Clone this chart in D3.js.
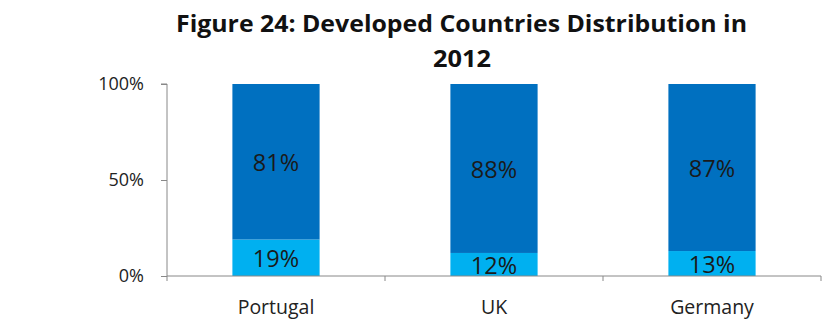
<!DOCTYPE html>
<html><head><meta charset="utf-8">
<script src="https://cdn.jsdelivr.net/npm/d3@7"></script>
<style>body{margin:0;background:#fff;} text{font-family:"Open Sans","Noto Sans",sans-serif;}</style>
</head><body>
<svg id="c" width="831" height="328"></svg>
<script>
const categories = ["Portugal", "UK", "Germany"];
const lowerValues = [19, 12, 13];
const upperValues = [81, 88, 87];
const yTicks = [0, 50, 100];
const titleLines = ["Figure 24: Developed Countries Distribution in", "2012"];

const svg = d3.select("#c");
const x = d3.scaleBand().domain(categories).range([167, 821]).paddingInner(0.6).paddingOuter(0.3);
const y = d3.scaleLinear().domain([0, 100]).range([276, 84]);

// title
svg.append("text").attr("x", 461.5).attr("y", 32).attr("text-anchor", "middle")
  .attr("font-size", 23.5).attr("font-weight", "bold").attr("fill", "#111")
  .attr("textLength", 571).attr("lengthAdjust", "spacingAndGlyphs").text(titleLines[0]);
svg.append("text").attr("x", 462).attr("y", 67).attr("text-anchor", "middle")
  .attr("font-size", 23.5).attr("font-weight", "bold").attr("fill", "#111")
  .attr("textLength", 58).attr("lengthAdjust", "spacingAndGlyphs").text(titleLines[1]);

// bars
const data = categories.map((c, i) => ({c, lo: lowerValues[i], hi: upperValues[i]}));
svg.selectAll("rect.lo").data(data).join("rect").attr("class", "lo")
  .attr("x", d => x(d.c)).attr("width", x.bandwidth())
  .attr("y", d => y(d.lo)).attr("height", d => y(0) - y(d.lo)).attr("fill", "#00B0F0");
svg.selectAll("rect.hi").data(data).join("rect").attr("class", "hi")
  .attr("x", d => x(d.c)).attr("width", x.bandwidth())
  .attr("y", d => y(d.lo + d.hi)).attr("height", d => y(d.lo) - y(d.lo + d.hi)).attr("fill", "#0070C0");

// value labels
svg.selectAll("text.vlo").data(data).join("text").attr("class", "vlo")
  .attr("x", d => x(d.c) + x.bandwidth() / 2).attr("y", d => (y(0) + y(d.lo)) / 2 + 1)
  .attr("dy", "0.36em").attr("text-anchor", "middle").attr("font-size", 23.5).attr("fill", "#1a1a1a")
  .text(d => d.lo + "%");
svg.selectAll("text.vhi").data(data).join("text").attr("class", "vhi")
  .attr("x", d => x(d.c) + x.bandwidth() / 2).attr("y", d => (y(d.lo) + y(d.lo + d.hi)) / 2 + 1)
  .attr("dy", "0.36em").attr("text-anchor", "middle").attr("font-size", 23.5).attr("fill", "#1a1a1a")
  .text(d => d.hi + "%");

// y axis
const yAxis = svg.append("g").attr("transform", "translate(167,0)")
  .call(d3.axisLeft(y).tickValues(yTicks).tickFormat(d => d + "%").tickSize(6).tickPadding(17));
yAxis.select(".domain").attr("stroke", "#888").attr("d", `M-6,${y(100)}H0V${y(0)}`);
yAxis.selectAll(".tick line").attr("stroke", "#888");
yAxis.selectAll(".tick text").attr("font-size", 18).attr("fill", "#222")
  .attr("font-family", "'Open Sans','Noto Sans',sans-serif");

// x axis
const xg = svg.append("g");
xg.append("line").attr("x1", 167).attr("x2", 821).attr("y1", y(0)).attr("y2", y(0)).attr("stroke", "#888");
const edges = d3.range(categories.length + 1).map(i => x.range()[0] + i * x.step());
xg.selectAll("line.t").data(edges).join("line").attr("class", "t")
  .attr("x1", d => d).attr("x2", d => d).attr("y1", y(0)).attr("y2", y(0) + 5).attr("stroke", "#888");
xg.selectAll("text.cat").data(categories).join("text").attr("class", "cat")
  .attr("x", d => x(d) + x.bandwidth() / 2).attr("y", 314).attr("text-anchor", "middle")
  .attr("font-size", 19.5).attr("fill", "#222").text(d => d);
</script>
</body></html>
